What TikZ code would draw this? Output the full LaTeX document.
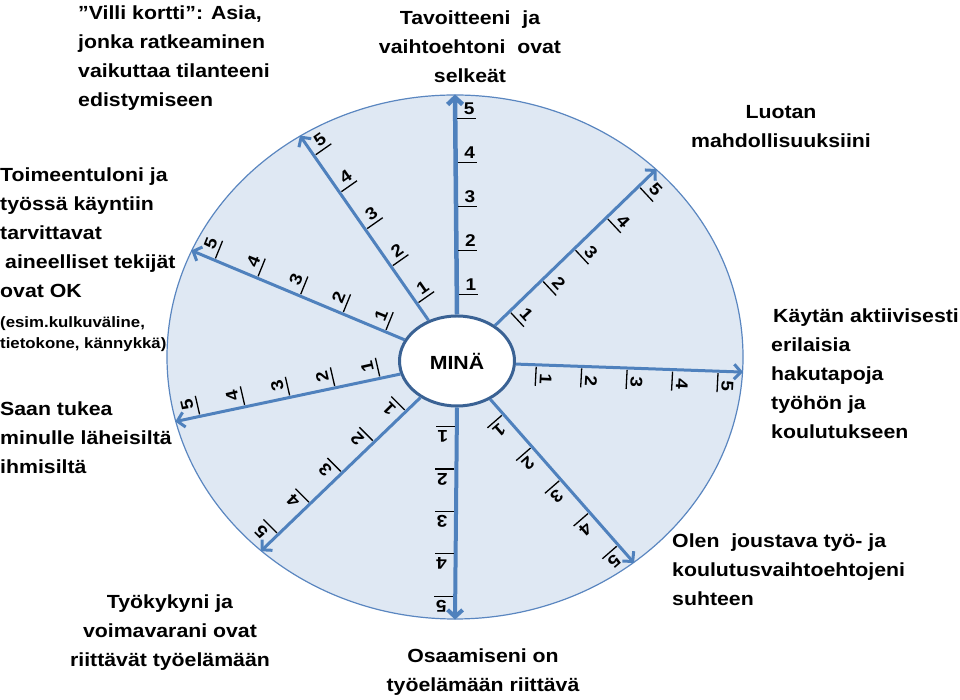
\documentclass[tikz,border=0pt]{standalone}
\usepackage{fontspec}
\usetikzlibrary{arrows.meta, calc, shapes.geometric}
\newfontfamily\lblfont{Liberation Sans}[FakeStretch=1.12]
\definecolor{wheelfill}{RGB}{223,232,243}
\definecolor{wheeledge}{RGB}{90,134,192}
\definecolor{spoke}{RGB}{79,129,189}
\definecolor{hubedge}{RGB}{58,98,148}

\begin{document}
\begin{tikzpicture}[
    x=1pt, y=1pt,
    every node/.style={inner sep=0pt},
    txt/.style={font={\lblfont\bfseries\fontsize{19}{29}\selectfont}},
    lefttxt/.style={txt, align=left, anchor=north west},
    midtxt/.style={txt, align=center, anchor=north},
    smalltxt/.style={font={\lblfont\bfseries\fontsize{15}{21}\selectfont}},
    num/.style={font={\lblfont\bfseries\fontsize{17}{17}\selectfont}},
    arr/.style={-{Straight Barb[length=7pt, width=15pt]}, draw=spoke, line width=#1},
    tickmark/.style={black, line width=1.3pt},
]
\useasboundingbox (0,0) rectangle (960,700);

% Wheel and hub
\node[ellipse, draw=wheeledge, line width=1.2pt, fill=wheelfill,
      minimum width=576pt, minimum height=524pt] (field) at (455,343) {};
\node[ellipse, draw=hubedge, line width=3pt, fill=white, txt,
      minimum width=115pt, minimum height=90pt] (mina) at (457,339) {MINÄ};

% Spokes with scale 1-5
\foreach \ang/\lw in {90/4.5pt, 125/3pt, 158/3pt, 193/3pt, 225/3pt, 270/4pt, 311/3pt, 357/3pt, 43/3pt}{
  \draw[arr=\lw] (mina.\ang) -- (field.\ang);
  \foreach \k in {1,...,5}{
    \pgfmathsetmacro\f{0.2*\k-0.11}
    \coordinate (p) at ($(mina.\ang)!\f!(field.\ang)$);
    \draw[tickmark] ($(p)+(\ang-90:2)$) -- ++(\ang-90:19);
    \node[num, rotate=\ang-90] at ($(p)+(\ang-90:14)+(\ang:10)$) {\k};
  }
}

% Labels
\node[midtxt] (tavoit) at (470,689) {Tavoitteeni~ ja\\vaihtoehtoni~ ovat\\selkeät};
\node[midtxt] (luotan) at (781,595) {Luotan\\mahdollisuuksiini};
\node[lefttxt] (kaytan) at (771,391) {\hspace{2pt}Käytän aktiivisesti\\erilaisia\\hakutapoja\\työhön ja\\koulutukseen};
\node[lefttxt] (olen) at (672,166) {Olen~ joustava työ- ja\\koulutusvaihtoehtojeni\\suhteen};
\node[midtxt] (osaam) at (483,51) {Osaamiseni on\\työelämään riittävä};
\node[midtxt] (tyokyky) at (170,105) {Työkykyni ja\\voimavarani ovat\\riittävät työelämään};
\node[lefttxt] (saan) at (0,298) {Saan tukea\\minulle läheisiltä\\ihmisiltä};
\node[lefttxt] (toim) at (0,532) {Toimeentuloni ja\\työssä käyntiin\\tarvittavat\\\hspace{5pt}aineelliset tekijät\\ovat OK};
\node[lefttxt, smalltxt] (toimnote) at (0,384) {(esim.kulkuväline,\\tietokone, kännykkä)};
\node[lefttxt] (villi) at (78,694) {”Villi kortti”: Asia,\\jonka ratkeaminen\\vaikuttaa tilanteeni\\edistymiseen};

\end{tikzpicture}
\end{document}
